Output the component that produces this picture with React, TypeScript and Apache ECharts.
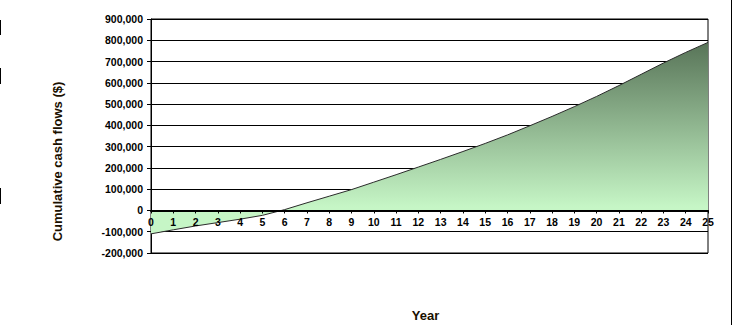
import React, { useEffect, useRef } from "react";
import * as echarts from "echarts";

const years: string[] = Array.from({ length: 26 }, (_, i) => String(i));
const cumulativeCashFlows: number[] = [
  -110000, -91000, -73000, -57000, -41000, -23000, 4000, 36000, 67000, 98000,
  133000, 168000, 204000, 240000, 277000, 315000, 355000, 398000, 442000, 488000,
  536000, 587000, 640000, 693000, 743000, 790000,
];
const yMin = -200000;
const yMax = 900000;
const yInterval = 100000;
const yTitle = "Cumulative cash flows ($)";
const xTitle = "Year";

export default function App() {
  const ref = useRef<HTMLDivElement>(null);
  useEffect(() => {
    if (!ref.current) return;
    const chart = echarts.init(ref.current, undefined, { renderer: "svg" });
    const font = "Arial, 'Liberation Sans', sans-serif";
    const gridTop = 19;
    const gridBottom = 72;
    const gridHeight = 325 - gridTop - gridBottom;
    const zeroOffset = -(gridHeight * (0 - yMin)) / (yMax - yMin);
    chart.setOption({
      animation: false,
      backgroundColor: "#ffffff",
      grid: {
        left: 151,
        right: 27,
        top: gridTop,
        bottom: gridBottom,
        show: true,
        borderColor: "#000",
        borderWidth: 1,
        backgroundColor: "transparent",
      },
      xAxis: {
        type: "category",
        data: years,
        boundaryGap: false,
        position: "bottom",
        offset: zeroOffset,
        axisLine: { onZero: false, lineStyle: { color: "#000", width: 2 } },
        axisTick: { show: true, length: 3, lineStyle: { color: "#000" } },
        axisLabel: {
          color: "#000",
          fontFamily: font,
          fontWeight: "bold",
          fontSize: 10.5,
          margin: 6,
          interval: 0,
        },
        splitLine: { show: false },
        z: 5,
      },
      yAxis: {
        type: "value",
        min: yMin,
        max: yMax,
        interval: yInterval,
        axisLine: { show: true, onZero: false, lineStyle: { color: "#000", width: 1 } },
        axisTick: { show: true, length: 4, lineStyle: { color: "#000" } },
        axisLabel: {
          color: "#000",
          fontFamily: font,
          fontWeight: "bold",
          fontSize: 10.5,
          margin: 8,
          formatter: (v: number) => v.toLocaleString("en-US"),
        },
        splitLine: { show: true, lineStyle: { color: "#000", width: 1 } },
      },
      series: [
        {
          type: "line",
          data: cumulativeCashFlows,
          symbol: "none",
          lineStyle: { color: "#2a2a2a", width: 1 },
          areaStyle: {
            color: new echarts.graphic.LinearGradient(0, 0, 0, 1, [
              { offset: 0, color: "#587458" },
              { offset: 0.86, color: "#c6f6c6" },
              { offset: 1, color: "#c6f6c6" },
            ]),
            opacity: 1,
          },
          z: 1,
        },
      ],
      graphic: [
        {
          type: "text",
          x: 57.5,
          y: 161.5,
          rotation: Math.PI / 2,
          style: {
            text: yTitle,
            fill: "#1a1000",
            font: `bold 13px ${font}`,
            align: "center",
            verticalAlign: "middle",
          },
        },
        {
          type: "text",
          x: 425.5,
          y: 315,
          style: {
            text: xTitle,
            fill: "#1a1000",
            font: `bold 13px ${font}`,
            align: "center",
            verticalAlign: "middle",
          },
        },
        { type: "line", shape: { x1: 731.5, y1: 0, x2: 731.5, y2: 325 }, style: { stroke: "#000", lineWidth: 1 } },
        { type: "line", shape: { x1: 0.5, y1: 20, x2: 0.5, y2: 35 }, style: { stroke: "#000", lineWidth: 1 } },
        { type: "line", shape: { x1: 0.5, y1: 68, x2: 0.5, y2: 84 }, style: { stroke: "#000", lineWidth: 1 } },
        { type: "line", shape: { x1: 0.5, y1: 188, x2: 0.5, y2: 204 }, style: { stroke: "#000", lineWidth: 1 } },
      ],
    });
    return () => chart.dispose();
  }, []);
  return (
    <div
      ref={ref}
      style={{ position: "fixed", left: 0, top: 0, width: 735, height: 325 }}
    />
  );
}
